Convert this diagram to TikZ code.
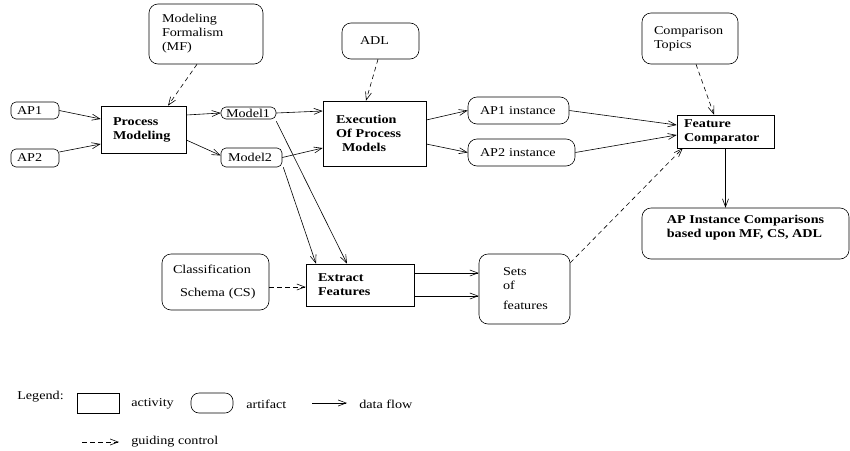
\documentclass[tikz,border=0pt]{standalone}
\usepackage{fontspec}
\setmainfont{Liberation Serif}[FakeStretch=1.18]
\usetikzlibrary{arrows.meta}
\begin{document}
\begin{tikzpicture}[x=1pt,y=-1pt,
  every node/.style={font=\fontsize{12}{14}\selectfont, line width=0.6pt},
  act/.style={draw, inner ysep=0pt, align=left, font=\fontsize{12}{14}\selectfont\bfseries},
  art/.style={draw, rounded corners=5pt, inner ysep=0pt, align=left},
  bigart/.style={art, rounded corners=9pt},
  lbl/.style={anchor=west, inner sep=0pt},
  flow/.style={-{Straight Barb[length=8pt,width=6pt]}, line width=0.6pt},
  guide/.style={flow, dash pattern=on 4.5pt off 3.5pt}]
\useasboundingbox (0,0) rectangle (850,450);
\fill[white] (0,0) rectangle (850,450);

% artifacts
\node[art, minimum width=48pt, minimum height=17pt, text width=36pt, inner xsep=6pt] (ap1) at (35,110.5) {AP1};
\node[art, minimum width=48pt, minimum height=18pt, text width=36pt, inner xsep=6pt] (ap2) at (35,158) {AP2};
\node[bigart, minimum width=114pt, minimum height=60pt, text width=88pt, inner xsep=13pt] (mf) at (206,34) {Modeling\\Formalism\\(MF)};
\node[art, minimum width=55pt, minimum height=12pt, text width=45pt, inner xsep=5pt] (m1) at (248.5,113) {Model1};
\node[art, minimum width=61pt, minimum height=19pt, text width=47pt, inner xsep=7pt] (m2) at (251.5,157.5) {Model2};
\node[bigart, minimum width=77pt, minimum height=36pt, text width=41pt, inner xsep=18pt] (adl) at (380.5,41) {ADL};
\node[bigart, minimum width=101pt, minimum height=27pt, text width=77pt, inner xsep=12pt] (a1i) at (518.5,110.5) {AP1~instance};
\node[bigart, minimum width=107pt, minimum height=27pt, text width=83pt, inner xsep=12pt] (a2i) at (521.5,152.5) {AP2~instance};
\node[bigart, minimum width=96pt, minimum height=51pt, text width=72pt, inner xsep=12pt] (ct) at (690,38.5) {Comparison\\Topics};
\node[bigart, minimum width=207pt, minimum height=51pt, font=\fontsize{12}{14}\selectfont\bfseries] (apic) at (745.5,233.5) {AP~Instance~Comparisons\\based~upon~MF,~CS,~ADL\rule[-14pt]{0pt}{0pt}};
\node[bigart, minimum width=107pt, minimum height=56pt, text width=85pt, inner xsep=11pt] (cs) at (215.5,282) {Classification\\[9pt]\hspace*{7pt}Schema~(CS)};
\node[bigart, minimum width=91pt, minimum height=70pt, text width=43pt, inner xsep=24pt] (sets) at (524.5,289) {Sets\\of\\[6pt]features};

% activities
\node[act, minimum width=85pt, minimum height=47pt, text width=61pt, inner xsep=12pt] (pm) at (143.5,129.5) {Process\\Modeling};
\node[act, minimum width=103pt, minimum height=65pt, text width=77pt, inner xsep=13pt] (ex) at (374.5,133.5) {Execution\\Of~Process\\\hspace*{6pt}Models};
\node[act, minimum width=97pt, minimum height=33pt, text width=83pt, inner xsep=7pt] (fc) at (725.5,131.5) {Feature\\Comparator};
\node[act, minimum width=108pt, minimum height=42pt, text width=84pt, inner xsep=12pt] (ef) at (360,285) {Extract\\Features};

% connectors
\draw[flow] (ap1.east) -- ([yshift=10.5pt]pm.west);
\draw[flow] ([yshift=6pt]ap2.east) -- ([yshift=-14.5pt]pm.west);
\draw[flow] ([yshift=14.5pt]pm.east) -- (m1.west);
\draw[flow] ([yshift=-10.5pt]pm.east) -- ([yshift=2pt]m2.west);
\draw[guide] ([xshift=-9pt]mf.south) -- ([xshift=24.5pt]pm.north);
\draw[flow] (m1.east) -- ([yshift=22.5pt]ex.west);
\draw[flow] (m2.east) -- ([yshift=-14.5pt]ex.west);
\draw[guide] ([xshift=-2.5pt]adl.south) -- ([xshift=-8.5pt]ex.north);
\draw[flow] ([yshift=13.5pt]ex.east) -- (a1i.west);
\draw[flow] ([yshift=-10.5pt]ex.east) -- (a2i.west);
\draw[flow] (a1i.east) -- ([yshift=6.5pt]fc.west);
\draw[flow] (a2i.east) -- ([yshift=-3.5pt]fc.west);
\draw[guide] ([xshift=6pt]ct.south) -- ([xshift=-11.5pt]fc.north);
\draw[flow] (fc.south) -- (fc.south |- apic.north);
\draw[flow] ([yshift=-2pt]m1.south east) -- ([xshift=-13pt]ef.north);
\draw[flow] ([xshift=1pt]m2.south east) -- ([xshift=-44pt]ef.north);
\draw[guide] ([yshift=-5pt]cs.east) -- ([yshift=-2pt]ef.west);
\draw[flow] ([yshift=12pt]ef.east) -- ([yshift=16pt]sets.west);
\draw[flow] ([yshift=-11pt]ef.east) -- ([yshift=-7pt]sets.west);
\draw[guide] ([yshift=-9pt]sets.north east) -- ([xshift=6pt]fc.south west);

% legend
\node[lbl] (leg) at (17,397) {Legend:};
\node[draw, minimum width=42pt, minimum height=20pt, inner sep=0pt] (legact) at (98,403) {};
\node[lbl] (legacttxt) at (131,404) {activity};
\node[draw, rounded corners=8pt, minimum width=42pt, minimum height=20pt, inner sep=0pt] (legart) at (212,403) {};
\node[lbl] (legarttxt) at (246,404) {artifact};
\coordinate (df1) at (312,403);
\coordinate (df2) at (347,403);
\draw[flow] (df1) -- (df2);
\node[lbl] (dftxt) at (359,404) {data flow};
\coordinate (gc1) at (82,442);
\coordinate (gc2) at (119,442);
\draw[guide] (gc1) -- (gc2);
\node[lbl] (gctxt) at (131,442) {guiding control};
\end{tikzpicture}
\end{document}
